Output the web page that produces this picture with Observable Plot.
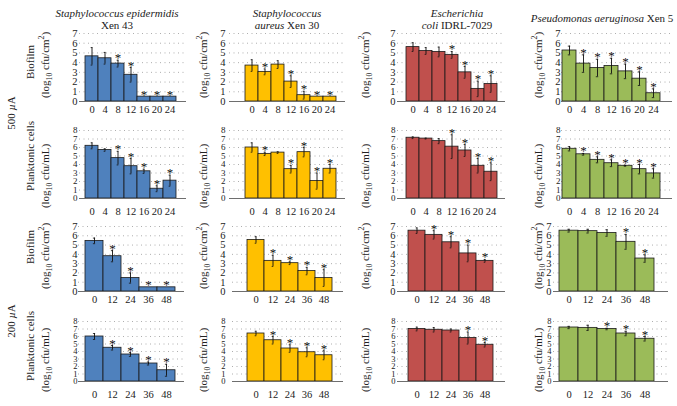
<!DOCTYPE html>
<html><head><meta charset="utf-8">
<script src="https://cdn.jsdelivr.net/npm/d3@7"></script>
<script src="https://cdn.jsdelivr.net/npm/@observablehq/plot@0.6"></script>
<style>
body{margin:0;background:#fff;}
#wrap{position:relative;width:677px;height:406px;overflow:hidden;font-family:"Liberation Serif","DejaVu Serif",serif;color:#222;background:#fff;}
.lab{position:absolute;white-space:nowrap;font-size:11px;line-height:1;transform:translate(-50%,-50%) rotate(-90deg);}
.ttl{position:absolute;white-space:nowrap;font-size:11px;line-height:1;transform:translate(-50%,-50%);}
sub,sup{font-size:70%;line-height:0}
.plotbox{position:absolute;}
.plotbox text{font-family:"Liberation Serif","DejaVu Serif",serif;}
</style></head><body><div id="wrap"></div>
<script>
// ---- data ----
const times500 = ["0","4","8","12","16","20","24"];
const times200 = ["0","12","24","36","48"];
const colors = ["#4f81bd","#ffc000","#c0504d","#9bbb59"];

// Biofilm, 500 µA
const seB500 = [4.65,4.45,3.9,2.75,0.5,0.5,0.5];
const seB500Err = [0.9,0.6,0.35,0.75,0,0,0];
const seB500Sig = [0,0,1,1,1,1,1];
const saB500 = [3.7,3.05,3.8,2.05,0.65,0.5,0.5];
const saB500Err = [0.6,0.3,0.4,0.6,0.4,0,0];
const saB500Sig = [0,1,0,1,1,1,1];
const ecB500 = [5.6,5.2,5.1,4.8,3.0,1.3,1.8];
const ecB500Err = [0.45,0.35,0.5,0.35,0.6,0.8,0.85];
const ecB500Sig = [0,0,0,1,1,1,1];
const paB500 = [5.25,3.9,3.45,3.65,3.1,2.35,0.85];
const paB500Err = [0.45,0.9,0.9,0.8,0.75,0.7,0.45];
const paB500Sig = [0,1,1,1,1,1,1];

// Planktonic, 500 µA
const seP500 = [6.2,5.7,4.75,3.8,3.2,1.15,2.1];
const seP500Err = [0.35,0.15,0.8,0.9,0.25,0.35,0.65];
const seP500Sig = [0,0,1,1,1,1,1];
const saP500 = [6.0,5.25,5.4,3.45,5.45,2.05,3.5];
const saP500Err = [0.55,0.2,0.1,0.45,0.55,0.95,0.5];
const saP500Sig = [0,1,0,1,1,1,1];
const ecP500 = [7.15,7.05,6.75,6.1,5.65,3.85,3.15];
const ecP500Err = [0.1,0.05,0.3,1.4,0.7,0.85,1.05];
const ecP500Sig = [0,0,0,1,1,1,1];
const paP500 = [5.85,5.2,4.55,4.15,3.85,3.45,2.95];
const paP500Err = [0.25,0.1,0.35,0.4,0.05,0.55,0.55];
const paP500Sig = [0,1,1,1,1,1,1];

// Biofilm, 200 µA
const seB200 = [5.45,3.8,1.45,0.45,0.45];
const seB200Err = [0.3,0.6,0.55,0,0];
const seB200Sig = [0,1,1,1,1];
const saB200 = [5.55,3.3,3.05,2.2,1.45];
const saB200Err = [0.35,0.6,0.15,0.4,0.9];
const saB200Sig = [0,1,1,1,1];
const ecB200 = [6.55,6.1,5.3,4.1,3.3];
const ecB200Err = [0.3,0.45,0.6,0.9,0.15];
const ecB200Sig = [0,1,1,1,1];
const paB200 = [6.55,6.5,6.3,5.35,3.55];
const paB200Err = [0.15,0.2,0.35,0.8,0.4];
const paB200Sig = [0,0,0,1,1];

// Planktonic, 200 µA
const seP200 = [6.0,4.5,3.6,2.4,1.5];
const seP200Err = [0.4,0.3,0.25,0.2,0.8];
const seP200Sig = [0,1,1,1,1];
const saP200 = [6.4,5.5,4.4,3.9,3.5];
const saP200Err = [0.3,0.5,0.5,0.6,0.6];
const saP200Sig = [0,1,1,1,1];
const ecP200 = [7.0,6.9,6.8,5.8,4.9];
const ecP200Err = [0.25,0.3,0.2,0.8,0.3];
const ecP200Sig = [0,0,0,1,1];
const paP200 = [7.2,7.15,7.0,6.4,5.7];
const paP200Err = [0.15,0.35,0.1,0.3,0.3];
const paP200Sig = [0,0,1,1,1];

const panels = [
  [[seB500,seB500Err,seB500Sig],[saB500,saB500Err,saB500Sig],[ecB500,ecB500Err,ecB500Sig],[paB500,paB500Err,paB500Sig]],
  [[seP500,seP500Err,seP500Sig],[saP500,saP500Err,saP500Sig],[ecP500,ecP500Err,ecP500Sig],[paP500,paP500Err,paP500Sig]],
  [[seB200,seB200Err,seB200Sig],[saB200,saB200Err,saB200Sig],[ecB200,ecB200Err,ecB200Sig],[paB200,paB200Err,paB200Sig]],
  [[seP200,seP200Err,seP200Sig],[saP200,saP200Err,saP200Sig],[ecP200,ecP200Err,ecP200Sig],[paP200,paP200Err,paP200Sig]]
];

// ---- layout ----
const rowsL = [
  {top:33, bot:101, max:7, pad:4, times:times500, yfs:10.5},
  {top:130, bot:198, max:8, pad:9, times:times500, yfs:9},
  {top:226, bot:291, max:7, pad:4, times:times200, yfs:10.5},
  {top:321, bot:381, max:8, pad:9, times:times200, yfs:8.5}
];
const geo500 = [
  {fl:79, fr:186, b:[82,178], lab:77},
  {fl:229, fr:345, b:[242,338], lab:225},
  {fl:397, fr:505, b:[403,499], lab:395},
  {fl:561, fr:672, b:[562,660], lab:560}
];
const geo200 = [
  {fl:78, fr:184, b:[84,175], lab:77},
  {fl:232, fr:343, b:[245,334], lab:225},
  {fl:397, fr:505, b:[406,495], lab:395},
  {fl:553, fr:668, b:[558,654], lab:551}
];

const wrap = document.getElementById("wrap");
rowsL.forEach((R, r) => {
  const geo = r < 2 ? geo500 : geo200;
  for (let c = 0; c < 4; c++) {
    const G = geo[c];
    const [vals, errs, sigs] = panels[r][c];
    const data = R.times.map((t, i) => ({t, v: vals[i], e: errs[i], s: sigs[i]}));
    const ml = 30, mr = 4, mt = 10, mb = 22;
    const left = G.fl - ml, top = R.top - mt;
    const width = (G.fr - G.fl) + ml + mr;
    const height = (R.bot - R.top) + mt + mb;
    const bw = (G.b[1] - G.b[0]) / R.times.length;
    const withErr = data.filter(d => d.e > 0);
    const svg = Plot.plot({
      width, height,
      marginLeft: ml, marginRight: mr, marginTop: mt, marginBottom: mb,
      style: {fontFamily: '"Liberation Serif", serif', fontSize: "10.5px", background: "transparent", color: "#222"},
      x: {type: "band", domain: R.times, range: [G.b[0] - left, G.b[1] - left], padding: 0},
      y: {domain: [0, R.max]},
      marks: [
        Plot.gridY(d3.range(1, R.max + 1), {stroke: "#999", strokeOpacity: 1, strokeWidth: 0.8, strokeDasharray: "1,3.5"}),
        Plot.barY(data, {x: "t", y: "v", fill: colors[c], stroke: "#1a1a1a", strokeWidth: 0.8}),
        Plot.ruleY([0], {stroke: "#6e6e6e", strokeWidth: 1}),
        Plot.ruleX(withErr, {x: "t", y1: d => d.v - d.e, y2: d => d.v + d.e, stroke: "#111", strokeWidth: 0.9}),
        Plot.tickY(withErr, {x: "t", y: d => d.v + d.e, stroke: "#111", strokeWidth: 0.8, insetLeft: bw/2 - 1.2, insetRight: bw/2 - 1.2}),
        Plot.tickY(withErr, {x: "t", y: d => d.v - d.e, stroke: "#111", strokeWidth: 0.8, insetLeft: bw/2 - 1.2, insetRight: bw/2 - 1.2}),
        Plot.text(data.filter(d => d.s), {x: "t", y: d => d.v + d.e, text: () => "*", lineAnchor: "bottom", dy: 2, fontSize: 13, fill: "#111"}),
        Plot.axisY(d3.range(0, R.max + 1), {tickSize: 0, tickPadding: Math.max(1, G.fl - G.lab), label: null, fontSize: R.yfs}),
        Plot.axisX({tickSize: 0, tickPadding: R.pad, label: null, fontSize: 10.5})
      ]
    });
    svg.classList.add("plotbox");
    svg.style.left = left + "px";
    svg.style.top = top + "px";
    svg.style.overflow = "visible";
    wrap.appendChild(svg);
  }
});

// ---- text labels ----
function addLab(html, x, y, cls) {
  const d = document.createElement("div");
  d.className = cls;
  d.innerHTML = html;
  d.style.left = x + "px";
  d.style.top = y + "px";
  wrap.appendChild(d);
}
const logCm = "(log<sub>10</sub> cfu/cm<sup>2</sup>)";
const logMl = "(log<sub>10</sub> cfu/mL)";
addLab("500 <i>µ</i>A", 11, 113, "lab");
addLab("200 <i>µ</i>A", 11, 321, "lab");
addLab("Biofilm", 30, 62, "lab");
addLab("Planktonic cells", 30, 156, "lab");
addLab("Biofilm", 30, 247, "lab");
addLab("Planktonic cells", 30, 346, "lab");
const logX = [45, 203, 365, 538];
logX.forEach(x => {
  addLab(logCm, x, 65, "lab");
  addLab(logMl, x, 176, "lab");
  addLab(logCm, x, 256, "lab");
  addLab(logMl, x, 360, "lab");
});
addLab("<i>Staphylococcus epidermidis</i>", 117, 13, "ttl");
addLab("Xen 43", 117, 25, "ttl");
addLab("<i>Staphylococcus</i>", 287, 13, "ttl");
addLab("<i>aureus</i> Xen 30", 287, 25, "ttl");
addLab("<i>Escherichia</i>", 457, 13, "ttl");
addLab("<i>coli</i> IDRL-7029", 457, 25, "ttl");
addLab("<i>Pseudomonas aeruginosa</i> Xen 5", 602, 18, "ttl");
</script></body></html>
